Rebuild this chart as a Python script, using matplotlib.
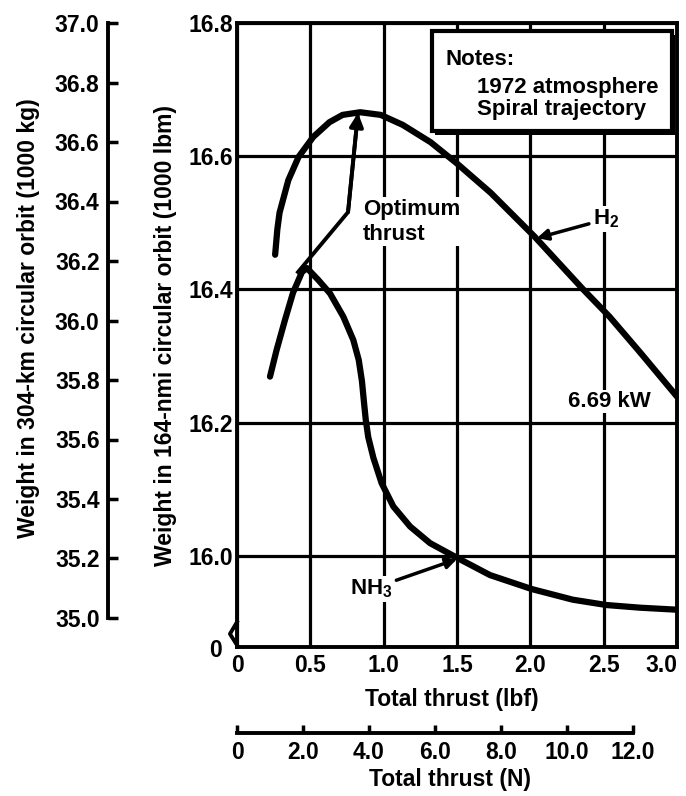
import matplotlib
matplotlib.use('Agg')
import matplotlib.pyplot as plt
from matplotlib.patches import Rectangle

plt.rcParams['font.family'] = ['Liberation Sans', 'DejaVu Sans']
plt.rcParams['font.weight'] = 'bold'
plt.rcParams['axes.labelweight'] = 'bold'
plt.rcParams['mathtext.fontset'] = 'custom'
plt.rcParams['mathtext.rm'] = 'Liberation Sans:bold'
plt.rcParams['mathtext.default'] = 'regular'

LBF_TO_N = 4.44822

# H2 curve (thrust in lbf, weight in 1000 lbm)
thrust_h2 = [0.26, 0.275, 0.29, 0.35, 0.42, 0.52, 0.63, 0.72, 0.84, 0.98, 1.13,
             1.32, 1.50, 1.73, 2.03, 2.36, 2.54, 2.75, 3.0]
weight_h2 = [16.452, 16.490, 16.515, 16.564, 16.599, 16.629, 16.651, 16.662,
             16.666, 16.662, 16.647, 16.621, 16.589, 16.545, 16.479, 16.40,
             16.359, 16.305, 16.239]

# NH3 curve
thrust_nh3 = [0.225, 0.27, 0.327, 0.382, 0.443, 0.477, 0.555, 0.634, 0.725,
              0.793, 0.830, 0.852, 0.866, 0.878, 0.895, 0.930, 0.986, 1.066,
              1.18, 1.316, 1.50, 1.725, 2.01, 2.29, 2.52, 2.75, 3.0]
weight_nh3 = [16.269, 16.309, 16.354, 16.395, 16.426, 16.432, 16.414, 16.394,
              16.359, 16.324, 16.294, 16.262, 16.230, 16.204, 16.178, 16.147,
              16.109, 16.074, 16.044, 16.019, 15.997, 15.971, 15.95, 15.934,
              15.926, 15.922, 15.919]

# optimum thrust locus
thrust_opt = [0.416, 0.757, 0.825]
weight_opt = [16.426, 16.516, 16.665]

x_ticks_lbf = [0, 0.5, 1.0, 1.5, 2.0, 2.5, 3.0]
x_labels_lbf = ['0', '0.5', '1.0', '1.5', '2.0', '2.5', '3.0']
x_ticks_n = [0, 2, 4, 6, 8, 10, 12]
x_labels_n = ['0', '2.0', '4.0', '6.0', '8.0', '10.0', '12.0']
y_ticks_lbm = [16.0, 16.2, 16.4, 16.6, 16.8]
y_ticks_kg = [35.0, 35.2, 35.4, 35.6, 35.8, 36.0, 36.2, 36.4, 36.6, 36.8, 37.0]

fs_tick = 16.5
fs_lab = 16.5
fs_note = 16

fig = plt.figure(figsize=(6.86, 7.96), dpi=100)
W, H = 686.0, 796.0

# main axes
ax = fig.add_axes([237 / W, 1 - 647 / H, 440 / W, 624 / H])
ax.set_xlim(0, 3.0)
ax.set_ylim(15.863, 16.8)
ax.set_xticks(x_ticks_lbf)
ax.set_xticklabels(x_labels_lbf)
ax.set_yticks(y_ticks_lbm)
ax.set_yticklabels(['%.1f' % v for v in y_ticks_lbm])
ax.tick_params(length=0, labelsize=fs_tick)
ax.tick_params(axis='x', pad=5)
ax.tick_params(axis='y', pad=3)
ax.get_xticklabels()[-1].set_horizontalalignment('right')
ax.grid(True, color='black', lw=2.3)
ax.set_axisbelow(True)
for s in ax.spines.values():
    s.set_linewidth(2.8)

ax.plot(thrust_h2, weight_h2, color='black', lw=4.5, solid_capstyle='round', zorder=3)
ax.plot(thrust_nh3, weight_nh3, color='black', lw=4.5, solid_capstyle='round', zorder=3)
ax.plot(thrust_opt, weight_opt, color='black', lw=2.8, zorder=3)
ax.annotate('', xy=(thrust_opt[2], weight_opt[2]), xytext=(thrust_opt[1], weight_opt[1]),
            arrowprops=dict(arrowstyle='-|>', lw=2.8, color='black', mutation_scale=20,
                            shrinkA=0, shrinkB=0), zorder=4)

ax.set_xlabel('Total thrust (lbf)', fontsize=fs_lab)
ax.xaxis.set_label_coords(452 / W, 1 - 688 / H, transform=fig.transFigure)
ax.set_ylabel('Weight in 164-nmi circular orbit (1000 lbm)', fontsize=fs_lab)
ax.yaxis.set_label_coords(177 / W, 1 - 336 / H, transform=fig.transFigure)

# broken axis mark and zero label
ax.plot([0, -0.016, 0], [0.040, 0.021, 0.003], color='black', lw=2.8,
        transform=ax.transAxes, clip_on=False)
ax.text(-0.034, -0.005, '0', transform=ax.transAxes, ha='right', va='center',
        fontsize=fs_tick)

# notes box
ax.add_patch(Rectangle((0.450, 0.820), 0.545, 0.160, transform=ax.transAxes,
                       facecolor='black', edgecolor='black', lw=0, zorder=5))
ax.add_patch(Rectangle((0.443, 0.827), 0.545, 0.160, transform=ax.transAxes,
                       facecolor='white', edgecolor='black', lw=3, zorder=5))
ax.text(0.473, 0.933, 'Notes:', transform=ax.transAxes, fontsize=fs_note,
        va='baseline', zorder=6)
ax.text(0.545, 0.888, '1972 atmosphere', transform=ax.transAxes, fontsize=fs_note,
        va='baseline', zorder=6)
ax.text(0.545, 0.853, 'Spiral trajectory', transform=ax.transAxes, fontsize=fs_note,
        va='baseline', zorder=6)

box = dict(facecolor='white', edgecolor='none', pad=1)
ax.text(0.859, 16.536, 'Optimum\nthrust', fontsize=fs_note, ha='left', va='top',
        linespacing=1.25, bbox=box, zorder=4)
ax.text(2.257, 16.2236, '6.69 kW', fontsize=fs_note, ha='left', va='baseline',
        bbox=box, zorder=4)
ax.annotate('H$_2$', xy=(2.045, 16.477), xytext=(2.427, 16.497), fontsize=fs_note,
            va='baseline', ha='left', bbox=box,
            arrowprops=dict(arrowstyle='-|>', lw=2.5, color='black',
                            mutation_scale=16, shrinkA=2, shrinkB=0), zorder=4)
ax.annotate('NH$_3$', xy=(1.5, 15.995), xytext=(0.77, 15.9415), fontsize=fs_note,
            va='baseline', ha='left', bbox=box,
            arrowprops=dict(arrowstyle='-|>', lw=2.5, color='black',
                            mutation_scale=16, shrinkA=2, shrinkB=0), zorder=4)

# left kg axis
ax_kg = fig.add_axes([108 / W, 1 - 647 / H, 0.001, 624 / H])
ax_kg.set_ylim(35.0 - 29 / 297.5, 37.0)
ax_kg.patch.set_visible(False)
for k in ['top', 'right', 'bottom']:
    ax_kg.spines[k].set_visible(False)
ax_kg.spines['left'].set_bounds(35.0, 37.0)
ax_kg.spines['left'].set_linewidth(2.8)
ax_kg.set_xticks([])
ax_kg.set_yticks(y_ticks_kg)
ax_kg.set_yticklabels(['%.1f' % v for v in y_ticks_kg])
ax_kg.tick_params(axis='y', direction='in', length=7, width=2.5, pad=6,
                  labelsize=fs_tick)
ax_kg.set_ylabel('Weight in 304-km circular orbit (1000 kg)', fontsize=fs_lab)
ax_kg.yaxis.set_label_coords(40 / W, 1 - 318 / H, transform=fig.transFigure)

# bottom newton axis
ax_n = fig.add_axes([237 / W, 1 - 733 / H, 440 / W, 0.001])
ax_n.set_xlim(0, 3.0 * LBF_TO_N)
ax_n.patch.set_visible(False)
for k in ['top', 'right', 'left']:
    ax_n.spines[k].set_visible(False)
ax_n.spines['bottom'].set_bounds(0, 12)
ax_n.spines['bottom'].set_linewidth(2.8)
ax_n.set_yticks([])
ax_n.set_xticks(x_ticks_n)
ax_n.set_xticklabels(x_labels_n)
ax_n.tick_params(axis='x', direction='in', length=6, width=2.5, pad=6,
                 labelsize=fs_tick)
ax_n.set_xlabel('Total thrust (N)', fontsize=fs_lab)
ax_n.xaxis.set_label_coords(450 / W, 1 - 768 / H, transform=fig.transFigure)

fig.savefig('out.png', dpi=100)
